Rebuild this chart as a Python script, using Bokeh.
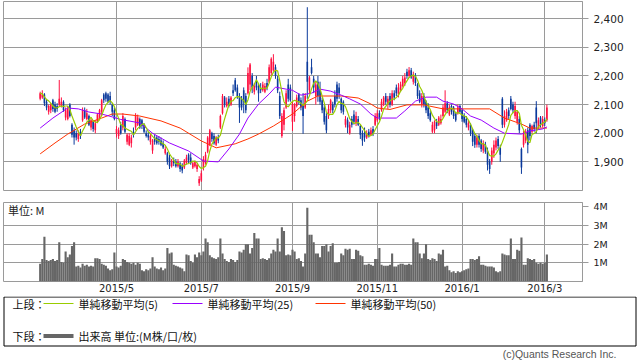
import numpy as np
import pandas as pd
from bokeh.plotting import figure
from bokeh.layouts import column
from bokeh.models import Range1d, FixedTicker, NumeralTickFormatter, Label
from bokeh.embed import file_html
from bokeh.resources import INLINE

# ---------------- data ----------------
start_date = "2015-03-11"
end_date = "2016-03-02"
holidays = ["2015-04-29", "2015-05-04", "2015-05-05", "2015-05-06", "2015-07-20",
            "2015-09-21", "2015-09-22", "2015-09-23", "2015-10-12", "2015-11-03",
            "2015-11-23", "2015-12-23", "2015-12-31", "2016-01-01", "2016-01-11",
            "2016-02-11"]

opens = [2120,2125,2135,2110,2075,2080,2115,2100,2095,2100,
         2095,2110,2055,2050,2100,2030,2010,2000,1980,2005,
         2045,2080,2050,2060,2020,2040,2010,2040,2050,2075,
         2135,2140,2135,2130,2100,2080,2000,1990,2030,2020,
         2050,1970,1960,1965,2005,2020,2030,2050,2045,2030,
         2000,1995,1970,1940,1985,1985,1980,1975,1965,1930,
         1930,1915,1885,1905,1900,1885,1895,1885,1880,1895,
         1925,1915,1880,1885,1875,1825,1835,1880,1895,1935,
         1960,2000,1990,1960,1985,2020,2070,2125,2095,2120,
         2100,2150,2185,2160,2130,2120,2150,2130,2140,2170,
         2200,2145,2180,2165,2160,2150,2145,2175,2180,2210,
         2220,2230,2190,2130,1990,2030,2090,2170,2160,2040,
         2060,2095,2135,2115,2100,2090,2250,2150,2230,2190,
         2130,2180,2150,2115,2090,2060,2060,2080,2100,2130,
         2170,2160,2120,2110,2030,2045,2000,2050,2065,2035,
         2050,2025,2000,2000,1985,2005,1995,2015,2030,2045,
         2070,2080,2100,2130,2100,2130,2100,2140,2160,2135,
         2150,2165,2175,2215,2200,2220,2180,2200,2170,2140,
         2100,2130,2110,2090,2070,2005,2010,2040,2030,2035,
         2060,2075,2105,2065,2095,2090,2070,2070,2095,2080,
         2060,2050,2020,2030,2010,1990,1960,1990,1975,1940,
         1960,1940,1900,1900,1930,1950,1980,1950,2120,2030,
         2045,2080,2120,2100,2060,2040,2050,1945,1960,1975,
         2010,2030,2005,2030,2090,2020,2055,2025,2045,2045]
highs = [2145,2150,2140,2120,2100,2105,2120,2110,2105,2186,
         2125,2115,2090,2095,2105,2035,2020,2010,2010,2015,
         2090,2090,2085,2065,2050,2045,2045,2070,2085,2120,
         2140,2145,2140,2145,2105,2090,2025,2020,2040,2070,
         2055,2000,2000,1995,2020,2070,2065,2055,2050,2035,
         2010,2005,2000,1980,1995,1990,1990,1985,1975,1955,
         1935,1925,1910,1915,1910,1910,1900,1895,1910,1925,
         1930,1930,1900,1905,1895,1850,1870,1920,1935,1990,
         2015,2005,2000,1990,1995,2065,2137,2130,2125,2130,
         2130,2170,2193,2170,2140,2130,2160,2140,2230,2245,
         2210,2175,2200,2175,2175,2180,2175,2190,2240,2265,
         2276,2240,2200,2145,2070,2090,2150,2190,2170,2110,
         2105,2135,2140,2125,2140,2140,2440,2200,2260,2200,
         2180,2200,2180,2125,2100,2070,2100,2120,2110,2150,
         2180,2175,2125,2115,2060,2055,2040,2060,2080,2075,
         2060,2030,2010,2020,2010,2015,2020,2025,2070,2080,
         2080,2120,2130,2140,2130,2140,2150,2150,2170,2175,
         2180,2200,2210,2225,2231,2228,2215,2210,2175,2150,
         2140,2140,2115,2105,2080,2040,2045,2050,2060,2065,
         2100,2150,2112,2100,2100,2095,2075,2100,2100,2085,
         2070,2060,2045,2035,2015,2000,1995,1997,1980,1975,
         1970,1950,1910,1950,1975,1985,1990,1960,2126,2080,
         2085,2090,2130,2110,2110,2080,2060,1950,2010,2015,
         2020,2035,2030,2040,2112,2055,2060,2060,2055,2100]
lows = [2115,2120,2095,2080,2065,2070,2075,2070,2075,2095,
        2090,2075,2045,2045,2055,1985,1960,1975,1970,1980,
        2040,2050,2045,2025,2010,2005,2000,2035,2045,2060,
        2105,2110,2105,2100,2060,2045,1985,1980,1995,2010,
        2000,1960,1955,1950,1985,2010,2025,2015,2015,2000,
        1985,1975,1960,1928,1960,1960,1960,1955,1945,1925,
        1890,1875,1880,1885,1880,1880,1865,1860,1875,1890,
        1895,1890,1875,1880,1865,1816,1830,1870,1890,1930,
        1955,1970,1960,1955,1965,2015,2065,2090,2090,2090,
        2095,2130,2145,2120,2036,2080,2070,2070,2135,2150,
        2140,2135,2150,2110,2140,2145,2140,2150,2175,2200,
        2215,2190,2140,2050,1984,2010,2085,2110,2110,2008,
        2040,2090,2100,2080,1998,2085,2120,2140,2205,2140,
        2100,2110,2100,2070,2030,2000,2050,2070,2070,2090,
        2110,2120,2070,2065,2020,2000,1995,2020,2030,2025,
        2025,1980,1956,1970,1980,1985,1990,1990,2025,2040,
        2045,2075,2095,2100,2085,2090,2095,2115,2130,2125,
        2145,2160,2165,2190,2195,2190,2170,2165,2120,2105,
        2090,2090,2070,2050,2040,2000,2000,2015,2025,2030,
        2055,2070,2070,2060,2065,2050,2040,2065,2070,2040,
        2035,2020,2010,1990,1955,1949,1950,1950,1935,1930,
        1928,1870,1858,1890,1914,1940,1945,1900,2018,2020,
        2040,2050,2080,2070,2050,2030,2000,1858,1950,1965,
        1930,1975,2000,2005,2000,2015,2020,2020,2025,2040]
closes = [2140,2135,2105,2090,2095,2100,2085,2075,2085,2120,
          2110,2080,2080,2085,2060,1995,1985,1985,2000,1990,
          2080,2055,2070,2030,2045,2015,2035,2065,2080,2115,
          2115,2120,2110,2110,2075,2050,2015,2010,2000,2060,
          2005,1995,1990,1985,1995,2060,2055,2020,2025,2005,
          1990,1985,1990,1975,1970,1965,1970,1960,1950,1945,
          1900,1885,1905,1895,1885,1900,1875,1870,1905,1915,
          1905,1895,1895,1900,1890,1840,1860,1910,1925,1985,
          2010,1980,1965,1985,1975,2060,2130,2100,2110,2095,
          2125,2140,2150,2130,2090,2090,2110,2080,2210,2240,
          2160,2165,2160,2140,2150,2170,2165,2160,2230,2260,
          2250,2200,2150,2060,2060,2080,2140,2120,2115,2100,
          2100,2125,2110,2090,2060,2130,2180,2195,2210,2160,
          2170,2130,2110,2080,2040,2010,2085,2115,2080,2100,
          2120,2140,2080,2075,2050,2020,2030,2030,2040,2060,
          2030,1995,1975,1985,2000,1990,2010,2000,2060,2070,
          2055,2110,2125,2110,2120,2100,2140,2125,2140,2160,
          2170,2190,2195,2200,2220,2195,2205,2175,2130,2110,
          2130,2100,2080,2060,2045,2030,2040,2025,2055,2050,
          2090,2105,2080,2090,2075,2060,2045,2090,2075,2050,
          2040,2030,2035,2000,1970,1960,1985,1960,1945,1965,
          1935,1890,1875,1940,1960,1975,1955,1925,2030,2060,
          2075,2060,2085,2080,2095,2075,2010,1880,2000,2005,
          1960,1990,2025,2015,2035,2045,2030,2050,2035,2090]
volumes_m = [0.95,1.2,2.4,1.15,1.1,1.15,1.2,1.1,1.15,2.1,
             1.05,1.0,1.6,1.3,1.45,1.9,2.1,0.8,0.85,0.75,
             0.95,0.85,0.9,0.8,0.85,0.8,1.25,1.25,1.2,0.95,
             0.9,0.85,0.7,0.6,0.65,1.55,0.8,0.75,0.85,1.2,
             1.15,1.05,1.0,0.95,1.0,0.9,1.0,0.95,0.6,0.55,
             0.65,0.6,0.7,1.3,0.8,0.7,0.65,0.75,0.6,0.7,
             1.8,1.5,1.55,0.9,0.85,0.8,0.75,0.7,0.55,1.45,
             1.4,1.1,1.0,1.45,1.3,1.55,1.4,1.6,2.3,2.1,
             1.4,1.3,1.25,1.2,1.3,2.3,1.5,1.2,1.1,1.05,
             1.2,1.15,1.05,1.15,1.6,1.55,1.7,2.0,2.0,1.5,
             1.8,2.6,2.3,2.3,1.2,1.25,1.2,1.15,1.25,1.5,
             1.7,1.6,2.3,1.6,2.9,2.7,1.4,1.45,1.4,1.7,
             1.6,1.2,1.25,1.1,0.8,1.5,3.95,2.5,2.5,2.1,
             1.5,1.5,1.3,1.9,1.9,2.0,1.6,1.9,2.05,1.0,
             1.0,1.05,1.5,1.4,1.75,1.7,1.75,1.2,1.2,1.7,
             1.65,1.4,1.35,0.9,0.9,0.95,0.9,0.85,1.2,1.2,
             1.8,0.9,0.85,0.85,0.85,0.9,1.5,0.8,0.8,0.9,
             0.95,0.95,0.9,0.9,0.95,0.9,2.3,2.1,2.1,1.5,
             1.25,1.5,2.0,1.2,1.15,1.25,1.2,1.1,1.5,1.45,
             1.7,0.8,0.85,0.6,0.5,0.55,0.45,0.55,0.5,0.55,
             0.6,0.65,0.7,1.2,1.2,1.15,1.2,1.35,0.9,0.9,
             0.85,0.8,0.8,0.8,0.75,0.55,0.5,0.55,1.5,1.45,
             1.4,1.4,2.3,1.2,1.2,1.7,1.65,2.35,0.9,0.9,
             1.25,1.2,1.15,1.2,1.0,0.95,1.0,0.95,1.0,1.45]

# 25- and 50-day moving averages (trading-day index, price)
ma25_idx = [0,6,11,13,18,23,29,34,38,47,53,61,70,77,84,89,94,98,103,108,111,116,119,
            123,128,132,137,142,146,151,156,159,168,172,177,182,187,190,195,199,203,
            208,214,219,227,231,237,239]
ma25_val = [2018,2053,2078,2088,2085,2074,2067,2057,2048,2036,2000,1966,1938,1903,1900,
            1945,1997,2053,2102,2137,2161,2154,2150,2133,2140,2154,2147,2133,2120,2102,
            2067,2053,2053,2078,2112,2126,2126,2112,2102,2085,2060,2046,2018,2000,1997,
            2008,2015,2022]
ma50_idx = [0,7,13,21,29,34,39,47,57,66,76,79,83,92,98,103,110,116,119,126,131,142,150,
            156,159,165,173,181,190,198,212,219,227,231,239]
ma50_val = [1928,1966,1997,2032,2053,2067,2067,2060,2043,2018,1973,1963,1949,1963,1980,
            1997,2025,2053,2067,2112,2130,2130,2123,2102,2088,2083,2099,2099,2085,2085,
            2085,2053,2032,2018,2018]

price_ticks = [1900, 2000, 2100, 2200, 2300, 2400]
vol_ticks = [1, 2, 3, 4]
vol_tick_labels = ["1M", "2M", "3M", "4M"]

legend_labels = ["単純移動平均(5)", "単純移動平均(25)", "単純移動平均(50)"]
volume_label = "出来高 単位:(M株/口/枚)"

# ---------------- derived ----------------
dates = pd.bdate_range(start_date, end_date)
dates = dates[~dates.isin(pd.to_datetime(holidays))]
n = len(closes)
dates = dates[:n]
idx = np.arange(n)
month_idx, month_lbl = [], []
for k in range(1, n):
    if dates[k].month != dates[k - 1].month and dates[k].month % 2 == 1:
        month_idx.append(int(k))
        month_lbl.append(f"{dates[k].year}/{dates[k].month}")

df = pd.DataFrame(dict(i=idx, o=opens, h=highs, l=lows, c=closes, v=volumes_m))
df["ma5"] = df["c"].rolling(5, min_periods=1).mean()
df["top"] = df[["o", "c"]].max(axis=1)
df["bot"] = df[["o", "c"]].min(axis=1)
up = df[df["c"] >= df["o"]]
dn = df[df["c"] < df["o"]]

UP = "#ff1040"
DN = "#0b3a9c"
GRID = "#9a9a9a"
CJK = "Noto Sans CJK JP"

XR = Range1d(-17.3, 255.8)          # frame x 3 .. 582 in the window

# ---------------- price panel ----------------
p1 = figure(frame_width=579, frame_height=189, x_range=XR, y_range=Range1d(1800, 2460),
            x_axis_location=None, y_axis_location="right", output_backend="svg",
            toolbar_location=None, min_border_left=3, min_border_right=56,
            min_border_top=1, min_border_bottom=6)
p1.outline_line_color = GRID
p1.xgrid.ticker = FixedTicker(ticks=month_idx)
p1.ygrid.ticker = FixedTicker(ticks=price_ticks)
for g in (p1.xgrid[0], p1.ygrid[0]):
    g.grid_line_color = GRID
    g.grid_line_alpha = 1
ax = p1.yaxis[0]
ax.ticker = FixedTicker(ticks=price_ticks)
ax.formatter = NumeralTickFormatter(format="0,0")
ax.axis_line_color = GRID
ax.major_tick_line_color = GRID
ax.major_tick_out = 6
ax.major_tick_in = 0
ax.minor_tick_line_color = None
ax.major_label_standoff = 5
ax.major_label_text_font = "DejaVu Sans"
ax.major_label_text_font_size = "10.5px"
ax.major_label_text_color = "#222222"

for d, col in ((up, UP), (dn, DN)):
    p1.segment(x0=d["i"], y0=d["h"], x1=d["i"], y1=d["l"], line_color=col, line_width=1)
    p1.vbar(x=d["i"], width=0.75, top=d["top"], bottom=d["bot"],
            fill_color=col, line_color=None)

p1.line(ma50_idx, ma50_val, line_color="#ff3300", line_width=1)
p1.line(ma25_idx, ma25_val, line_color="#9900ff", line_width=1)
p1.line(df["i"], df["ma5"], line_color="#99cc00", line_width=1.2)

# ---------------- volume panel ----------------
p2 = figure(frame_width=579, frame_height=79, x_range=XR, y_range=Range1d(0, 4.23),
            y_axis_location="right", output_backend="svg", toolbar_location=None,
            min_border_left=3, min_border_right=56, min_border_top=6,
            min_border_bottom=13)
p2.outline_line_color = GRID
p2.xgrid.ticker = FixedTicker(ticks=month_idx)
p2.ygrid.ticker = FixedTicker(ticks=vol_ticks[:3])
for g in (p2.xgrid[0], p2.ygrid[0]):
    g.grid_line_color = GRID
    g.grid_line_alpha = 1
vax = p2.yaxis[0]
vax.ticker = FixedTicker(ticks=vol_ticks)
vax.major_label_overrides = {t: s for t, s in zip(vol_ticks, vol_tick_labels)}
vax.axis_line_color = GRID
vax.major_tick_line_color = GRID
vax.major_tick_out = 6
vax.major_tick_in = 0
vax.minor_tick_line_color = None
vax.major_label_standoff = 5
vax.major_label_text_font = "DejaVu Sans"
vax.major_label_text_font_size = "9.5px"
vax.major_label_text_color = "#222222"
xax = p2.xaxis[0]
xax.ticker = FixedTicker(ticks=month_idx)
xax.major_label_overrides = {t: s for t, s in zip(month_idx, month_lbl)}
xax.axis_line_color = None
xax.major_tick_line_color = None
xax.minor_tick_line_color = None
xax.major_tick_out = 0
xax.major_tick_in = 0
xax.minor_tick_out = 0
xax.minor_tick_in = 0
xax.major_label_standoff = 1
xax.major_label_text_font = "DejaVu Sans"
xax.major_label_text_font_size = "10px"
xax.major_label_text_color = "#222222"

p2.vbar(x=df["i"], width=1.0, top=df["v"], bottom=0, fill_color="#666666",
        line_color=None)
p2.add_layout(Label(x=-15.2, y=3.85, text="単位: M", text_font=CJK,
                    text_font_size="11px", text_baseline="middle", text_color="#222222"))

# ---------------- legend box (window coordinates) ----------------
p3 = figure(frame_width=638, frame_height=65, x_range=Range1d(0, 638), y_range=Range1d(362, 297),
            x_axis_location=None, y_axis_location=None, output_backend="svg",
            toolbar_location=None, min_border=0)
p3.outline_line_color = None
p3.xgrid.visible = False
p3.ygrid.visible = False
p3.quad(left=3.5, right=635.5, top=297.5, bottom=346.5, fill_color="white",
        line_color="black", line_width=1)

row1_y, row2_y = 304, 336.5
def lab(x, y, t, font=CJK, size="11px", **kw):
    p3.add_layout(Label(x=x, y=y, text=t, text_font=font, text_font_size=size,
                        text_baseline="middle", text_color=kw.get("color", "#111111"),
                        text_align=kw.get("align", "left")))

lab(12, row1_y, "上段：")
for (x0, col), t in zip(((43, "#99cc00"), (172, "#9900ff"), (315, "#ff3300")), legend_labels):
    p3.line([x0, x0 + 30], [row1_y, row1_y], line_color=col, line_width=1)
    lab(x0 + 35, row1_y, t)
lab(12, row2_y, "下段：")
p3.line([43, 73], [row2_y, row2_y], line_color="#666666", line_width=4)
lab(78, row2_y, volume_label)
lab(616, 354.5, "(c)Quants Research Inc.", font="Liberation Sans", size="10.5px",
    color="#555555", align="right")

panels = column(p1, p2, spacing=0)
layout = column(panels, p3, spacing=0)
open("out.html", "w").write(file_html(layout, INLINE))
